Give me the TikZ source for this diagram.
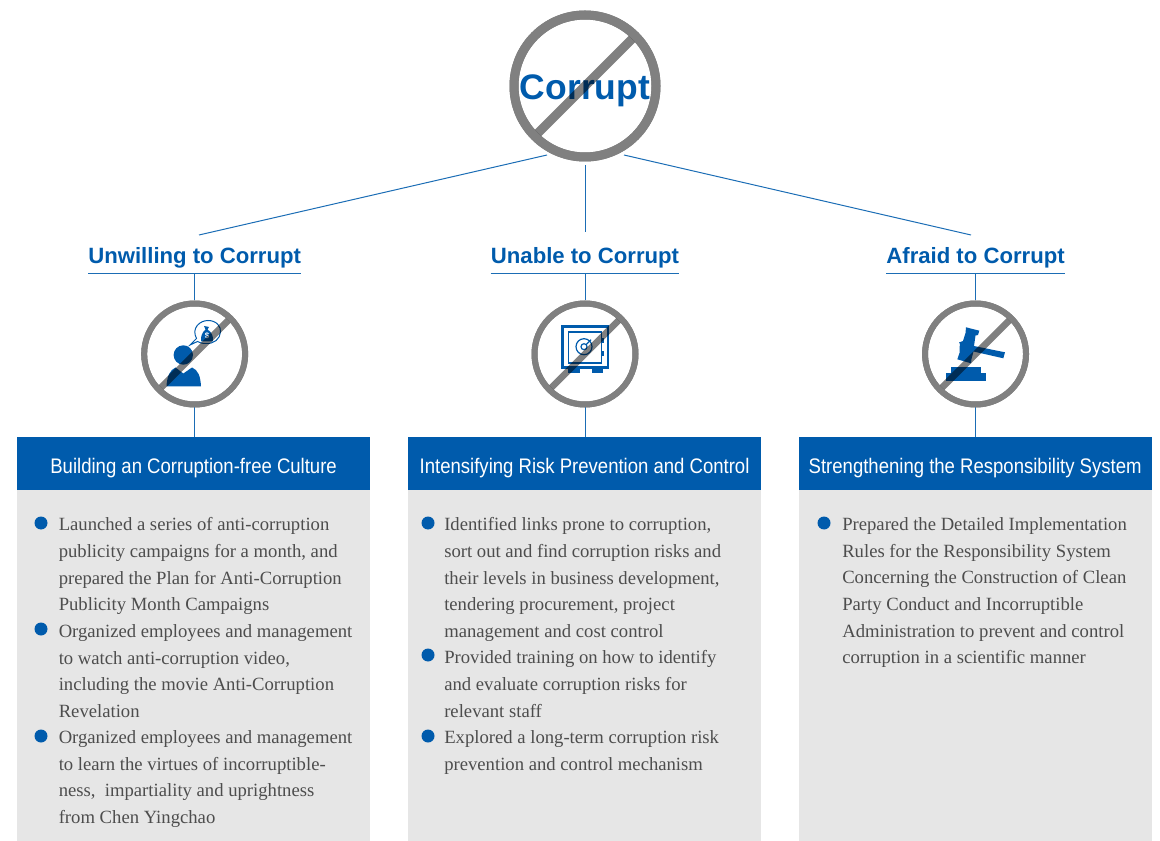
\documentclass[tikz,border=0pt]{standalone}
\usepackage{fontspec}
\setmainfont{Liberation Serif}
\setsansfont{Liberation Sans}
\newfontfamily\narrowfont[FakeStretch=0.88]{Liberation Sans}
\usepackage{xcolor}
\definecolor{cblue}{HTML}{005BAC}
\definecolor{cline}{HTML}{1B6DB5}
\definecolor{cgray}{HTML}{808080}
\definecolor{cpanel}{HTML}{E6E6E6}
\definecolor{ctext}{HTML}{4D4D4D}
\usetikzlibrary{positioning}
\newcommand{\lowertext}[2]{\raisebox{-#1}[\height][\depth]{#2}}

\begin{document}
\begin{tikzpicture}[x=.75pt,y=-.75pt,
                    link/.style={draw=cline,line width=.75pt},
                    big ring/.style={circle,draw=cgray,line width=6.75pt,minimum size=106.5pt,inner sep=0pt},
                    small ring/.style={circle,draw=cgray,line width=4.5pt,minimum size=75.75pt,inner sep=0pt},
                    title node/.style={text=cblue,inner xsep=0pt,inner ysep=0pt,minimum height=25.5pt,font=\sffamily\bfseries\fontsize{16.6}{18}\selectfont},
                    head node/.style={fill=cblue,text=white,minimum width=264.75pt,minimum height=39.75pt,inner sep=0pt,font=\narrowfont\fontsize{15.8}{18}\selectfont},
                    panel node/.style={fill=cpanel,minimum width=264.75pt,minimum height=263.25pt,inner sep=0pt},
                    bullet node/.style={circle,fill=cblue,minimum size=9.75pt,inner sep=0pt},
                    item node/.style={anchor=north west,align=left,inner sep=0pt,text=ctext,font=\fontsize{14}{19.95}\selectfont},
                    icon/.style={fill=cblue,draw=none}]

  \useasboundingbox (0,0) rectangle (1160,841);

  \node[big ring] (corrupt) at (585,86) {};
  \node[text=cblue,inner sep=0pt,font=\sffamily\bfseries\fontsize{26.6}{30}\selectfont] (corrupttext) at (585,91) {Corrupt};

  \node[title node] (title2) at (585,256) {\lowertext{1.5pt}{Unable to Corrupt}};
  \node[title node] (title1) [left of=title2,node distance=292.75pt] {\lowertext{1.5pt}{Unwilling to Corrupt}};
  \node[title node] (title3) [right of=title2,node distance=292.9pt] {\lowertext{1.5pt}{Afraid to Corrupt}};

  \node[small ring] (ring1) [below of=title1,node distance=73.5pt] {};
  \node[small ring] (ring2) [below of=title2,node distance=73.5pt] {};
  \node[small ring] (ring3) [below of=title3,node distance=73.5pt] {};

  \node[head node] (head1) [below of=ring1,node distance=82.1pt,xshift=-.8pt] {\lowertext{3.4pt}{Building an Corruption-free Culture}};
  \node[head node] (head2) [below of=ring2,node distance=82.1pt,xshift=-.3pt] {\lowertext{3.4pt}{Intensifying Risk Prevention and Control}};
  \node[head node] (head3) [below of=ring3,node distance=82.1pt,xshift=-.3pt] {\lowertext{3.4pt}{Strengthening the Responsibility System}};

  \node[panel node] (panel1) [below of=head1,node distance=151.5pt] {};
  \node[panel node] (panel2) [below of=head2,node distance=151.5pt] {};
  \node[panel node] (panel3) [below of=head3,node distance=151.5pt] {};

  \coordinate (start1) at (547,155);
  \coordinate (start2) at (585,165);
  \coordinate (start3) at (624,155);
  \coordinate (end1) at (199,235);
  \coordinate (end2) at (585,232);
  \coordinate (end3) at (971,235);
  \draw[link] (start1) -- (end1);
  \draw[link] (start2) -- (end2);
  \draw[link] (start3) -- (end3);

  \foreach \n in {1,2,3} {
    \draw[link] (title\n.south west) -- (title\n.south east);
    \draw[link] (title\n.south) -- (ring\n.north);
    \draw[link] (ring\n.south) -- (ring\n.south |- head\n.north);
  }

  % left column
  \node[bullet node] (dot11) at (41,523) {};
  \node[item node] (item11) at (58.5,517.5) {Launched a series of anti-corruption\\publicity campaigns for a month, and\\prepared the Plan for Anti-Corruption\\Publicity Month Campaigns};
  \node[bullet node] (dot12) at (41,629) {};
  \node[item node] (item12) at (58.5,624.5) {Organized employees and management\\to watch anti-corruption video,\\including the movie Anti-Corruption\\Revelation};
  \node[bullet node] (dot13) at (41,736) {};
  \node[item node] (item13) at (58.5,730.5) {Organized employees and management\\to learn the virtues of incorruptible-\\ness,\ \ impartiality and uprightness\\from Chen Yingchao};

  % middle column
  \node[bullet node] (dot21) at (428,523) {};
  \node[item node] (item21) at (444,517.5) {Identified links prone to corruption,\\sort out and find corruption risks and\\their levels in business development,\\tendering procurement, project\\management and cost control};
  \node[bullet node] (dot22) at (428,655) {};
  \node[item node] (item22) at (444,650.5) {Provided training on how to identify\\and evaluate corruption risks for\\relevant staff};
  \node[bullet node] (dot23) at (428,736) {};
  \node[item node] (item23) at (444,730.5) {Explored a long-term corruption risk\\prevention and control mechanism};

  % right column
  \node[bullet node] (dot31) at (824,523) {};
  \node[item node] (item31) at (842,517.5) {Prepared the Detailed Implementation\\Rules for the Responsibility System\\Concerning the Construction of Clean\\Party Conduct and Incorruptible\\Administration to prevent and control\\corruption in a scientific manner};

  % person with money bag
  \fill[icon] (183.3,355) circle (9.7);
  \fill[icon] (166.5,386.5) .. controls (167,376) and (170,370) .. (175.5,367.5) -- (183.3,373.5) -- (192,367.5) .. controls (198,370) and (200.5,376) .. (201,386.5) -- cycle;
  \draw[cblue,line width=.75pt,fill=white] (190,345) -- (196.5,338.5) .. controls (191,328) and (200,320.5) .. (208,320.5) .. controls (217,320.5) and (221,327) .. (220.5,332) .. controls (220,339) and (214,344) .. (206,343.5) .. controls (202,343.5) and (199,342.5) .. (197.5,341.5) -- cycle;
  \fill[icon] (204,326) -- (209,327) -- (207.5,329.5) .. controls (212,332) and (213.5,337) .. (213,341.5) -- (201,341.5) .. controls (200.5,337) and (202,332) .. (205.5,329.5) -- cycle;
  \node[text=white,inner sep=0pt,font=\sffamily\bfseries\fontsize{6}{6}\selectfont] (dollar) at (207,336) {\$};

  % safe
  \draw[cblue,line width=1.8pt] (562.5,326.5) rectangle (608,367.5);
  \draw[cblue,line width=1.1pt] (568.5,332) rectangle (601.5,363);
  \fill[icon] (568,368) rectangle (579.5,373);
  \fill[icon] (591.5,368) rectangle (603,373);
  \fill[icon] (600.5,338) rectangle (604,343);
  \fill[icon] (600.5,351) rectangle (604,356);
  \draw[cblue,line width=.9pt] (584,346.7) circle (8);
  \draw[cblue,line width=.9pt] (584,346.7) circle (3);
  \draw[cblue,line width=.9pt] (586,344.7) -- (591,339.7);

  % gavel
  \fill[icon] (966,327.3) -- (979.3,330.7) -- (978,335) -- (975.5,335.5) -- (974,346) -- (1005,352.3) -- (1003.3,358.3) -- (973.5,351.5) -- (971.5,359) -- (971,363.3) -- (957.3,359.3) -- (959.5,353) -- (959.5,348) -- (960,344) -- (959,342.5) -- (963,341) -- (965.5,333) -- cycle;
  \fill[icon] (950.7,366.7) rectangle (980.7,373.5);
  \fill[icon] (945.7,373.3) rectangle (986,380.7);

  \begin{scope}[blend mode=multiply]
    \draw[cgray,line width=6.75pt,shorten >=5pt,shorten <=5pt] (corrupt.north east) -- (corrupt.south west);
    \foreach \n in {1,2,3}
      \draw[cgray,line width=5pt,shorten >=3pt,shorten <=3pt] (ring\n.north east) -- (ring\n.south west);
  \end{scope}
  \draw[cgray,line width=6.75pt] (corrupt.center) circle (71);
  \foreach \n in {1,2,3}
    \draw[cgray,line width=4.5pt] (ring\n.center) circle (50.5);
\end{tikzpicture}
\end{document}
